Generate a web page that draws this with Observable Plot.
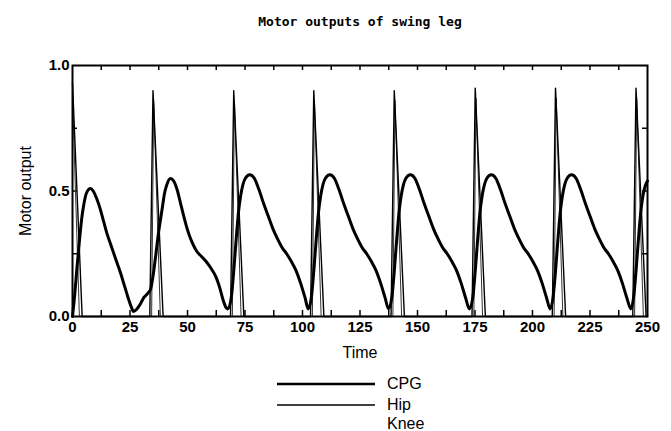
<!DOCTYPE html>
<html>
<head>
<meta charset="utf-8">
<script src="https://cdn.jsdelivr.net/npm/d3@7"></script>
<script src="https://cdn.jsdelivr.net/npm/@observablehq/plot@0.6"></script>
<style>
  body { margin: 0; background: white; }
  #wrap { position: relative; width: 671px; height: 431px; overflow: hidden; }
  #legend { position: absolute; left: 0; top: 0; pointer-events: none; }
</style>
</head>
<body>
<div id="wrap"></div>
<script>
const title = "Motor outputs of swing leg";
const yLabel = "Motor output";
const xLabel = "Time";
const xTicks = [0, 25, 50, 75, 100, 125, 150, 175, 200, 225, 250];
const yTicks = [0, 0.5, 1];
const xMinorTicks = [12.5, 25, 37.5, 50, 62.5, 75, 87.5, 100, 112.5, 125, 137.5, 150, 162.5, 175, 187.5, 200, 212.5, 225, 237.5];
const yMinorTicks = [0.25, 0.5, 0.75];
const seriesNames = ["CPG", "Hip", "Knee"];

// CPG output [time, value]
const cpgPoints = [
  [0,0.0],[1,0.09],[2,0.2],[3,0.3],[4,0.39],[5,0.45],[6,0.49],[7.8,0.51],[9,0.5],[10.5,0.47],
  [12,0.43],[13.5,0.38],[15,0.33],[16.5,0.29],[18,0.25],[19.5,0.21],[21,0.17],[22.5,0.125],[24,0.08],[25.5,0.04],[26.5,0.02],
  [28,0.03],[29.5,0.05],[31,0.075],[33,0.095],[34,0.11],
  [35,0.16],[36,0.23],[37.5,0.34],[39,0.43],[40,0.49],[41,0.525],[42.6,0.55],[44,0.54],[45.5,0.505],[47,0.45],
  [48.5,0.395],[50,0.345],[52,0.295],[54,0.26],[56,0.24],[58,0.22],[60,0.195],[62.5,0.155],[64,0.115],[65.5,0.065],
  [66.8,0.035],[67.6,0.03],
  [69.1,0.08],[70.1,0.18],[71.1,0.3],[72.1,0.41],[73.1,0.48],[74.1,0.525],[75.1,0.55],[77.1,0.565],[79.1,0.55],[81.1,0.505],
  [83.1,0.45],[85.1,0.4],[87.1,0.35],[89.1,0.31],[91.1,0.275],[93.1,0.25],[95.1,0.22],[97.1,0.185],[99.1,0.135],[101.1,0.075],[102.5,0.03],
  [103.9,0.08],[104.9,0.18],[105.9,0.3],[106.9,0.41],[107.9,0.48],[108.9,0.525],[109.9,0.55],[111.9,0.565],[113.9,0.55],[115.9,0.505],
  [117.9,0.45],[119.9,0.4],[121.9,0.35],[123.9,0.31],[125.9,0.275],[127.9,0.25],[129.9,0.22],[131.9,0.185],[133.9,0.135],[135.9,0.075],[137.4,0.03],
  [138.9,0.08],[139.9,0.18],[140.9,0.3],[141.9,0.41],[142.9,0.48],[143.9,0.525],[144.9,0.55],[146.9,0.565],[148.9,0.55],[150.9,0.505],
  [152.9,0.45],[154.9,0.4],[156.9,0.35],[158.9,0.31],[160.9,0.275],[162.9,0.25],[164.9,0.22],[166.9,0.185],[168.9,0.135],[170.9,0.075],[172.6,0.03],
  [174.1,0.08],[175.1,0.18],[176.1,0.3],[177.1,0.41],[178.1,0.48],[179.1,0.525],[180.1,0.55],[182.1,0.565],[184.1,0.55],[186.1,0.505],
  [188.1,0.45],[190.1,0.4],[192.1,0.35],[194.1,0.31],[196.1,0.275],[198.1,0.25],[200.1,0.22],[202.1,0.185],[204.1,0.135],[206.1,0.075],[207.7,0.03],
  [209,0.08],[210,0.18],[211,0.3],[212,0.41],[213,0.48],[214,0.525],[215,0.55],[217,0.565],[219,0.55],[221,0.505],
  [223,0.45],[225,0.4],[227,0.35],[229,0.31],[231,0.275],[233,0.25],[235,0.22],[237,0.185],[239,0.135],[241,0.075],[242.8,0.03],
  [244,0.08],[245,0.18],[246,0.3],[247,0.41],[248,0.48],[249,0.52],[250,0.54]
];

// Hip output [time, value]
const hipPoints = [
  [0,0.93],[4.2,0],[33.6,0],[35,0.9],[39.4,0],[68.7,0],[70.1,0.9],[74.5,0],[103.5,0],[104.9,0.9],[109.3,0],
  [138.5,0],[139.9,0.9],[144.3,0],[173.7,0],[175.1,0.91],[179.5,0],[208.6,0],[210,0.91],[214.4,0],
  [243.6,0],[245,0.91],[249.4,0],[250,0]
];

// Knee output [time, value]
const kneePoints = [
  [0,0.88],[3,0],[34.4,0],[35.3,0.86],[38.2,0],[69.5,0],[70.4,0.86],[73.3,0],[104.3,0],[105.2,0.86],[108.1,0],
  [139.3,0],[140.2,0.86],[143.1,0],[174.5,0],[175.4,0.87],[178.3,0],[209.4,0],[210.3,0.87],[213.2,0],
  [244.4,0],[245.3,0.87],[248.2,0],[250,0]
];

const toRows = (pts) => pts.map(([t, v]) => ({t, v}));
const frameW = 671 - 72 - 24;
const frameH = 431 - 65 - 115;

const plot = Plot.plot({
  width: 671,
  height: 431,
  marginLeft: 72,
  marginRight: 24,
  marginTop: 65,
  marginBottom: 115,
  x: {domain: [0, 250]},
  y: {domain: [0, 1]},
  style: {fontFamily: "'Liberation Sans', Arial, Helvetica, sans-serif", background: "white", color: "black", overflow: "visible"},
  marks: [
    Plot.ruleX(xMinorTicks, {x: d => d, insetBottom: frameH - 5, stroke: "black", strokeWidth: 1.5}),
    Plot.ruleX(xMinorTicks, {x: d => d, insetTop: frameH - 6, stroke: "black", strokeWidth: 1.5}),
    Plot.ruleY(yMinorTicks, {y: d => d, insetRight: frameW - 5, stroke: "black", strokeWidth: 1.5}),
    Plot.ruleY(yMinorTicks, {y: d => d, insetLeft: frameW - 5, stroke: "black", strokeWidth: 1.5}),
    Plot.line(toRows(kneePoints), {x: "t", y: "v", stroke: "#333", strokeWidth: 1}),
    Plot.line(toRows(hipPoints), {x: "t", y: "v", stroke: "black", strokeWidth: 1.4}),
    Plot.line(toRows(cpgPoints), {x: "t", y: "v", stroke: "black", strokeWidth: 3, curve: "monotone-x"}),
    Plot.frame({stroke: "black", strokeWidth: 2}),
    Plot.axisX({ticks: xTicks, tickSize: 0, tickPadding: 5, tickFormat: d => String(d), label: null, fontSize: 15, fontWeight: "bold"}),
    Plot.axisY({ticks: yTicks, tickSize: 0, tickPadding: 3, tickFormat: d => d.toFixed(1), label: null, fontSize: 15, fontWeight: "bold"}),
    Plot.text([title], {text: d => d, frameAnchor: "top", dy: -44, lineAnchor: "middle", textAnchor: "middle", fontFamily: "'DejaVu Sans Mono', monospace", fontSize: 13, fontWeight: 600, fill: "black"}),
    Plot.text([yLabel], {text: d => d, frameAnchor: "left", dx: -47, rotate: -90, lineAnchor: "middle", textAnchor: "middle", fontSize: 16, fill: "black"}),
    Plot.text([xLabel], {text: d => d, frameAnchor: "bottom", dy: 36, lineAnchor: "middle", textAnchor: "middle", fontSize: 16, fill: "black"})
  ]
});

const wrap = document.getElementById("wrap");
wrap.appendChild(plot);

// Legend below the plot
const ns = "http://www.w3.org/2000/svg";
const leg = document.createElementNS(ns, "svg");
leg.setAttribute("id", "legend");
leg.setAttribute("width", 671);
leg.setAttribute("height", 431);
const legendRows = [
  {name: seriesNames[0], y: 383, w: 2.6, line: true},
  {name: seriesNames[1], y: 404, w: 1.4, line: true},
  {name: seriesNames[2], y: 423, w: 0, line: false}
];
for (const r of legendRows) {
  if (r.line) {
    const l = document.createElementNS(ns, "line");
    l.setAttribute("x1", 277); l.setAttribute("x2", 375);
    l.setAttribute("y1", r.y + 1); l.setAttribute("y2", r.y + 1);
    l.setAttribute("stroke", "black"); l.setAttribute("stroke-width", r.w);
    leg.appendChild(l);
  }
  const t = document.createElementNS(ns, "text");
  t.setAttribute("x", 387); t.setAttribute("y", r.y);
  t.setAttribute("dominant-baseline", "central");
  t.setAttribute("font-family", "'Liberation Sans', Arial, sans-serif");
  t.setAttribute("font-size", 16);
  t.textContent = r.name;
  leg.appendChild(t);
}
wrap.appendChild(leg);
</script>
</body>
</html>
